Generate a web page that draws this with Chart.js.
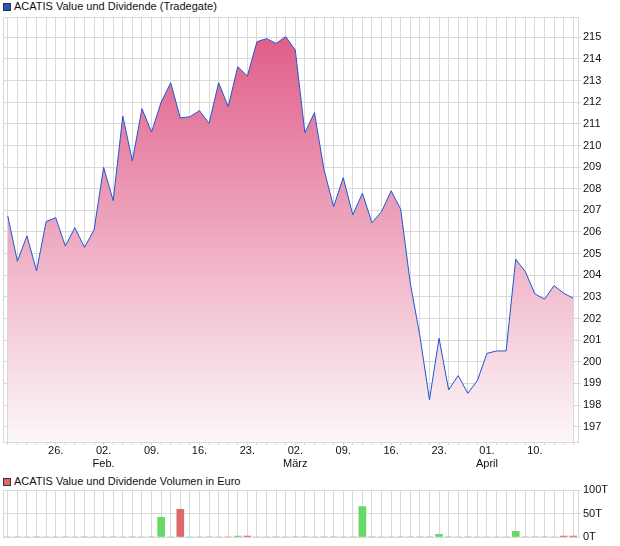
<!DOCTYPE html>
<html>
<head>
<meta charset="utf-8">
<script src="https://cdn.jsdelivr.net/npm/chart.js@4.4.1/dist/chart.umd.min.js"></script>
<style>
  html, body { margin: 0; padding: 0; background: #fff; }
  body { width: 620px; height: 546px; position: relative; overflow: hidden; font-family: "Liberation Sans", Arial, sans-serif; }
  .legend { position: absolute; left: 0; font-size: 11px; color: #111; line-height: 13px; white-space: nowrap; }
  .legend .box { position: absolute; left: 3px; top: 2px; width: 6px; height: 6px; border: 1px solid #333; }
  .legend .txt { position: absolute; left: 14px; top: -1px; }
  canvas { position: absolute; left: 0; }
</style>
</head>
<body>
<div class="legend" style="top:1px;"><span class="box" style="background:#2456c4;"></span><span class="txt">ACATIS Value und Dividende (Tradegate)</span></div>
<canvas id="priceChart" width="620" height="470" style="top:0;"></canvas>
<div class="legend" style="top:476px;"><span class="box" style="background:#dc6a6a;"></span><span class="txt">ACATIS Value und Dividende Volumen in Euro</span></div>
<canvas id="volChart" width="620" height="66" style="top:480px;"></canvas>
<script>
// ---- data ----
const prices = [
  206.74, 204.65, 205.82, 204.2, 206.48, 206.66, 205.35, 206.2, 205.29, 206.09,
  208.99, 207.45, 211.36, 209.28, 211.7, 210.62, 212.0, 212.9, 211.27, 211.33,
  211.61, 211.02, 212.9, 211.8, 213.64, 213.21, 214.8, 214.94, 214.72, 215.03,
  214.41, 210.59, 211.52, 208.87, 207.17, 208.51, 206.79, 207.79, 206.43, 206.94,
  207.9, 207.05, 203.63, 201.2, 198.24, 201.09, 198.7, 199.36, 198.54, 199.13,
  200.39, 200.5, 200.5, 204.74, 204.17, 203.14, 202.89, 203.52, 203.17, 202.94
];
const volumes = [
  0, 0, 0, 0, 0, 0, 0, 0, 0, 0,
  0, 0, 0, 0, 0, 0, 41900, 0, 58900, 0,
  0, 0, 0, 0, 2000, 2000, 0, 0, 0, 0,
  0, 0, 0, 0, 0, 0, 0, 64800, 0, 0,
  0, 0, 0, 0, 0, 5700, 0, 0, 0, 0,
  0, 0, 0, 12000, 0, 0, 0, 0, 2000, 2000
];
const tickPositions = [5, 10, 15, 20, 25, 30, 35, 40, 45, 50, 55];
const tickLabels = [['26.'], ['02.', 'Feb.'], ['09.'], ['16.'], ['23.'], ['02.', 'März'], ['09.'], ['16.'], ['23.'], ['01.', 'April'], ['10.']];
const volumeTicks = [0, 50000, 100000];
const volumeTickLabels = ['0T', '50T', '100T'];

const categories = prices.map((_, i) => {
  const k = tickPositions.indexOf(i);
  return k >= 0 ? tickLabels[k] : '';
});

// ---- styles ----
const GRID = '#d9d9d9';
const FONT = { family: '"Liberation Sans", Arial, sans-serif', size: 11 };
const UP = '#66d966';
const DOWN = '#dc6a6a';

const framePlugin = {
  id: 'frame',
  beforeDatasetsDraw(chart) {
    const { ctx, chartArea: a } = chart;
    ctx.save();
    ctx.strokeStyle = GRID;
    ctx.lineWidth = 1;
    ctx.strokeRect(Math.round(a.left) + 0.5, Math.round(a.top) + 0.5, Math.round(a.right - a.left), Math.round(a.bottom - a.top));
    ctx.restore();
  }
};

Chart.defaults.animation = false;

new Chart(document.getElementById('priceChart'), {
  type: 'line',
  data: {
    labels: categories,
    datasets: [{
      data: prices,
      borderColor: '#1c57d1',
      borderWidth: 1,
      pointRadius: 0,
      tension: 0,
      fill: 'start',
      backgroundColor: (c) => {
        const { chart } = c;
        const a = chart.chartArea;
        if (!a) return 'rgba(230,130,160,0.6)';
        const g = chart.ctx.createLinearGradient(0, a.top, 0, a.bottom);
        g.addColorStop(0, 'rgb(222,86,132)');
        g.addColorStop(1, 'rgb(253,248,250)');
        return g;
      }
    }]
  },
  options: {
    responsive: false,
    animation: false,
    layout: { padding: { left: 3, top: 17, right: 0, bottom: 0 } },
    plugins: { legend: { display: false }, tooltip: { enabled: false } },
    scales: {
      x: {
        offset: true,
        grid: { color: GRID, tickLength: 3, offset: false },
        border: { color: GRID },
        ticks: { autoSkip: false, maxRotation: 0, minRotation: 0, padding: -1, color: '#111', font: { ...FONT, lineHeight: 1.18 } },
        afterFit: (s) => { s.height = 28; }
      },
      y: {
        position: 'right',
        min: 196.29,
        max: 215.94,
        grid: { color: GRID, tickLength: 3 },
        border: { color: GRID },
        ticks: { stepSize: 1, includeBounds: false, padding: 2, color: '#111', font: FONT },
        afterFit: (s) => { s.width = 42; }
      }
    }
  },
  plugins: [framePlugin]
});

new Chart(document.getElementById('volChart'), {
  type: 'bar',
  data: {
    labels: categories,
    datasets: [{
      data: volumes,
      barThickness: 7,
      backgroundColor: volumes.map((_, i) => (i > 0 && prices[i] < prices[i - 1]) ? DOWN : UP)
    }]
  },
  options: {
    responsive: false,
    animation: false,
    layout: { padding: { left: 3, top: 10, right: 0, bottom: 9 } },
    plugins: { legend: { display: false }, tooltip: { enabled: false } },
    scales: {
      x: {
        offset: true,
        grid: { color: GRID, offset: false, drawTicks: false },
        border: { color: GRID },
        ticks: { display: false },
        afterFit: (s) => { s.height = 0; }
      },
      y: {
        position: 'right',
        min: 0,
        max: 100000,
        grid: { color: GRID, tickLength: 3 },
        border: { color: GRID },
        afterBuildTicks: (s) => { s.ticks = volumeTicks.map(v => ({ value: v })); },
        ticks: {
          padding: 2, color: '#111', font: FONT,
          callback: (v) => volumeTickLabels[volumeTicks.indexOf(v)]
        },
        afterFit: (s) => { s.width = 42; }
      }
    }
  },
  plugins: [framePlugin]
});
</script>
</body>
</html>
